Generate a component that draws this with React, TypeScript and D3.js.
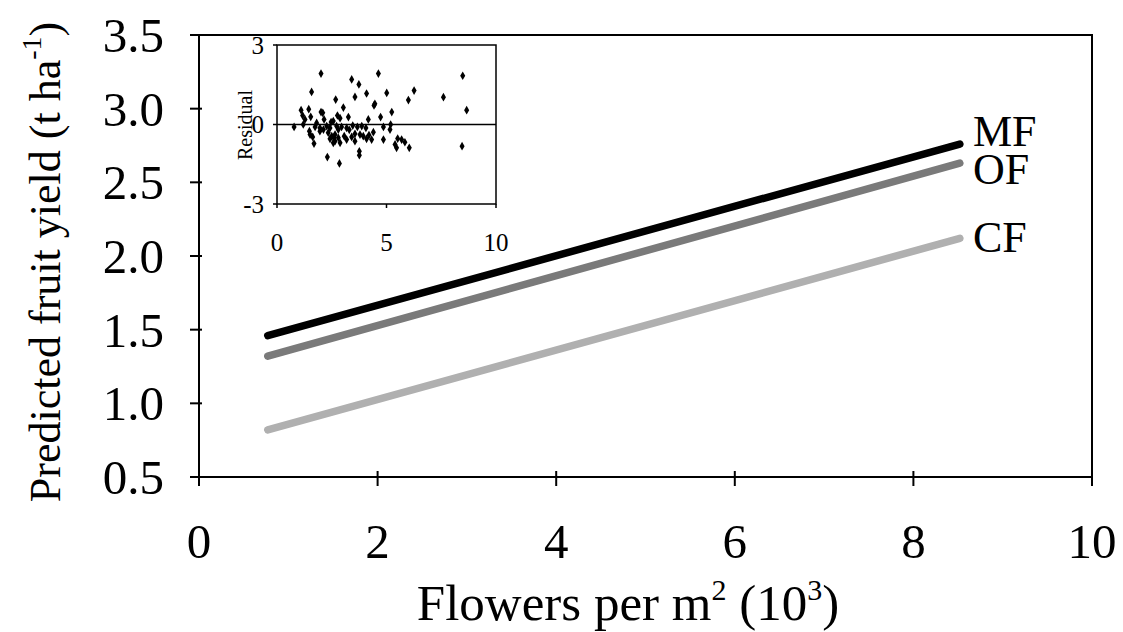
import React from "react";
import * as d3 from "d3";

const xTicks = [0, 2, 4, 6, 8, 10];
const yTicks = [0.5, 1.0, 1.5, 2.0, 2.5, 3.0, 3.5];
const seriesNames = ["MF", "OF", "CF"];
const flowersRange = [0.77, 8.52];
const mfYield = [1.46, 2.76];
const ofYield = [1.32, 2.63];
const cfYield = [0.82, 2.12];
const seriesColors = ["#000000", "#7a7a7a", "#b0b0b0"];

const insetXTicks = [0, 5, 10];
const insetYTicks = [-3, 0, 3];
const residualX = [2.01, 4.63, 8.48, 3.41, 3.74, 1.58, 4.09, 5.01, 6.26, 7.6, 2.68, 3.56, 6.0, 4.47, 4.43, 3.03, 8.66, 1.1, 1.45, 2.01, 2.09, 5.24, 1.17, 1.54, 2.76, 2.88, 3.26, 4.73, 2.15, 1.28, 2.57, 2.47, 4.17, 0.78, 1.2, 1.74, 1.96, 2.27, 2.42, 2.72, 2.95, 3.18, 3.46, 3.67, 3.87, 4.06, 4.86, 5.19, 5.16, 1.48, 1.51, 1.63, 1.96, 2.34, 2.5, 2.65, 2.8, 2.42, 2.65, 2.57, 2.88, 3.07, 3.18, 3.41, 3.56, 3.79, 3.94, 4.09, 4.32, 4.4, 4.86, 1.69, 5.51, 5.69, 5.84, 5.39, 5.46, 6.04, 8.45, 3.76, 3.76, 2.3, 2.85, 2.12, 2.8, 1.81, 3.56, 3.3, 4.2, 2.6];
const residualY = [1.92, 1.92, 1.84, 1.7, 1.51, 1.23, 1.17, 1.19, 1.28, 1.03, 0.94, 1.04, 0.92, 0.78, 0.72, 0.64, 0.54, 0.54, 0.58, 0.47, 0.44, 0.47, 0.34, 0.29, 0.34, 0.24, 0.28, 0.28, 0.19, 0.19, 0.13, 0.09, 0.19, -0.09, 0.0, -0.09, -0.13, -0.06, -0.13, -0.06, -0.09, -0.13, -0.04, -0.09, -0.06, -0.13, -0.09, 0.0, -0.19, -0.25, -0.38, -0.47, -0.25, -0.31, -0.44, -0.38, -0.5, -0.54, -0.63, -0.69, -0.69, -0.44, -0.57, -0.47, -0.63, -0.38, -0.44, -0.54, -0.57, -0.29, -0.57, -0.72, -0.53, -0.57, -0.67, -0.75, -0.88, -0.88, -0.82, -1.01, -1.16, -1.23, -1.47, -0.19, -0.19, 0.06, -0.35, -0.2, -0.4, -0.5];

const FONT = "'Liberation Serif', 'Times New Roman', serif";

export default function App() {
  const x = d3.scaleLinear().domain([0, 10]).range([199, 1092]);
  const y = d3.scaleLinear().domain([0.5, 3.5]).range([477, 35]);
  const ix = d3.scaleLinear().domain([0, 10]).range([277, 496]);
  const iy = d3.scaleLinear().domain([-3, 3]).range([204, 45]);
  const series = [mfYield, ofYield, cfYield];
  const labelBaselines = [146, 184, 252];
  const line = d3
    .line<[number, number]>()
    .x((d) => x(d[0]))
    .y((d) => y(d[1]));

  return (
    <svg
      width={1123}
      height={632}
      style={{ position: "absolute", left: 0, top: 0, background: "#fff" }}
      fontFamily={FONT}
    >
      <rect x={0} y={0} width={1123} height={632} fill="#fff" />
      {/* main frame */}
      <rect x={x(0)} y={y(3.5)} width={x(10) - x(0)} height={y(0.5) - y(3.5)} fill="none" stroke="#000" strokeWidth={2} />
      {yTicks.map((t) => (
        <g key={"yt" + t}>
          <line x1={x(0) - 9} x2={x(0) + 3} y1={y(t)} y2={y(t)} stroke="#000" strokeWidth={2} />
          <text x={164} y={y(t)} dy="0.35em" textAnchor="end" fontSize={49}>
            {t.toFixed(1)}
          </text>
        </g>
      ))}
      {xTicks.map((t) => (
        <g key={"xt" + t}>
          <line x1={x(t)} x2={x(t)} y1={y(0.5) - 6} y2={y(0.5) + 9} stroke="#000" strokeWidth={2} />
          <text x={x(t)} y={558} textAnchor="middle" fontSize={49}>
            {t}
          </text>
        </g>
      ))}
      <text x={628} y={620} textAnchor="middle" fontSize={51}>
        Flowers per m<tspan dy={-20} fontSize={30}>2</tspan>
        <tspan dy={20}> (10</tspan>
        <tspan dy={-20} fontSize={30}>3</tspan>
        <tspan dy={20}>)</tspan>
      </text>
      <text transform="translate(60,262) rotate(-90)" textAnchor="middle" fontSize={44}>
        Predicted fruit yield (t ha<tspan dy={-19} fontSize={28}>-1</tspan>
        <tspan dy={19}>)</tspan>
      </text>

      {/* lines */}
      {series.map((s, i) => (
        <path
          key={seriesNames[i]}
          d={line([
            [flowersRange[0], s[0]],
            [flowersRange[1], s[1]],
          ]) as string}
          fill="none"
          stroke={seriesColors[i]}
          strokeWidth={7.5}
          strokeLinecap="round"
        />
      ))}
      {seriesNames.map((n, i) => (
        <text key={"lab" + n} x={973} y={labelBaselines[i]} fontSize={44}>
          {n}
        </text>
      ))}

      {/* inset */}
      <rect x={ix(0)} y={iy(3)} width={ix(10) - ix(0)} height={iy(-3) - iy(3)} fill="#fff" stroke="#000" strokeWidth={1.5} />
      <line x1={ix(0)} x2={ix(10)} y1={iy(0)} y2={iy(0)} stroke="#000" strokeWidth={1.5} />
      {insetYTicks.map((t) => (
        <g key={"iyt" + t}>
          <line x1={ix(0) - 4} x2={ix(0)} y1={iy(t)} y2={iy(t)} stroke="#000" strokeWidth={1.5} />
          <text x={ix(0) - 13} y={iy(t)} dy="0.35em" textAnchor="end" fontSize={25}>
            {t}
          </text>
        </g>
      ))}
      {insetXTicks.map((t) => (
        <g key={"ixt" + t}>
          <line x1={ix(t)} x2={ix(t)} y1={iy(-3)} y2={iy(-3) + 4} stroke="#000" strokeWidth={1.5} />
          <text x={ix(t)} y={251} textAnchor="middle" fontSize={25}>
            {t}
          </text>
        </g>
      ))}
      <text transform="translate(252,125) rotate(-90)" textAnchor="middle" fontSize={20}>
        Residual
      </text>
      {residualX.map((v, i) => (
        <path
          key={"pt" + i}
          d={d3.symbol(d3.symbolDiamond, 22)() as string}
          transform={`translate(${ix(v)},${iy(residualY[i])})`}
          fill="#000"
        />
      ))}
    </svg>
  );
}
